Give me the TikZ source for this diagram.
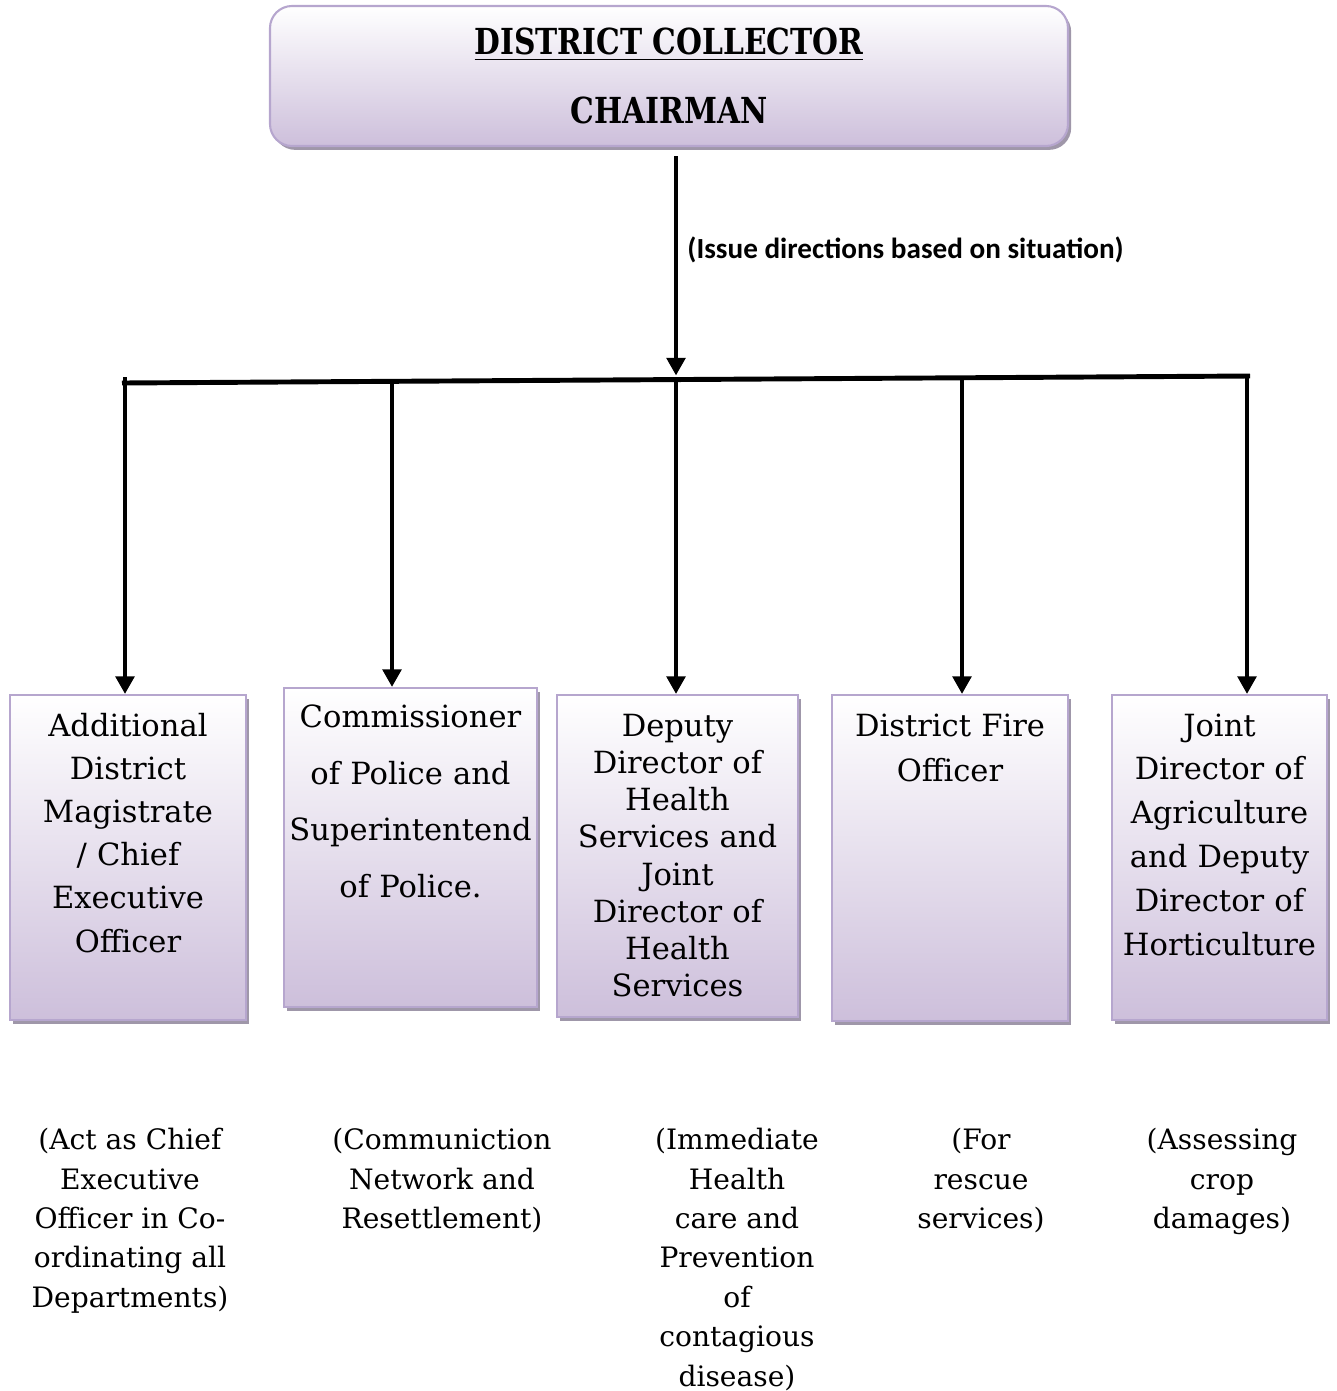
\documentclass[tikz,border=0pt]{standalone}
\usepackage{fontspec}
\setmainfont{DejaVu Serif}
\newfontfamily\labelfont{Carlito}
\newfontfamily\headfont[FakeStretch=0.83]{DejaVu Serif}
\usetikzlibrary{arrows.meta, positioning, shadows}
\definecolor{clav}{HTML}{CDBFDB}
\definecolor{cline}{HTML}{B6A6CE}
\definecolor{cshade}{HTML}{9F97A9}
\tikzset{
  every picture/.style={line width=1.4pt},
  boxshadow/.style={drop shadow={shadow xshift=0.9pt, shadow yshift=-1.1pt, fill=cshade, opacity=1}},
  chairbox/.style={draw=cline, line width=0.6pt, top color=white, bottom color=clav, rounded corners=0.22cm,
    minimum width=7.98cm, minimum height=1.40cm, align=center, boxshadow,
    font=\headfont\bfseries\fontsize{10.2}{12}\selectfont},
  postbox/.style={draw=cline, line width=0.6pt, top color=white, bottom color=clav, anchor=north, align=center,
    inner sep=0pt, text height=0.41cm, boxshadow, font=\fontsize{8.7}{12.3}\selectfont},
  feed/.style={-{Triangle[length=5pt, width=5.2pt]}, line width=1.4pt},
  notetext/.style={anchor=north, align=center, inner sep=0pt, font=\fontsize{8}{11.2}\selectfont},
}

\begin{document}
\begin{tikzpicture}
  \useasboundingbox (0,0) rectangle (13.36,-13.91);
  \node[chairbox] (chair) at (6.69,-0.76) {\underline{DISTRICT COLLECTOR}\\[7.8pt]CHAIRMAN};
  % stem and bar
  \coordinate (hub) at (6.76,-3.755);
  \draw[feed, shorten <=0.09cm] (hub |- chair.south) -- (hub);
  \node[anchor=west, inner sep=0pt, font=\labelfont\bfseries\fontsize{8.3}{10}\selectfont] (issue) at (6.85,-2.50) {(Issue directions based on situation)};
  \coordinate (barl) at (1.22,-3.83);
  \coordinate (barr) at (12.50,-3.76);
  \draw (barl) -- (barr);
  % officers
  \node[postbox, text width=2.36cm, text depth=2.84cm] (b1) at (1.28,-6.94) {Additional\\District\\Magistrate\\/ Chief\\Executive\\Officer};
  \node[postbox, text width=2.53cm, text height=0.39cm, text depth=2.80cm, font=\fontsize{8.7}{16.2}\selectfont] (b2) at (4.105,-6.87) {Commissioner\\of Police and\\Superintentend\\of Police.};
  \node[postbox, text width=2.41cm, text depth=2.81cm, font=\fontsize{8.7}{10.6}\selectfont] (b3) at (6.775,-6.94) {Deputy\\Director of\\Health\\Services and\\Joint\\Director of\\Health\\Services};
  \node[postbox, text width=2.36cm, text depth=2.85cm, font=\fontsize{8.7}{12.8}\selectfont] (b4) at (9.50,-6.94) {District Fire\\Officer};
  \node[postbox, text width=2.15cm, text depth=2.84cm, font=\fontsize{8.7}{12.5}\selectfont] (b5) at (12.195,-6.94) {Joint\\Director of\\Agriculture\\and Deputy\\Director of\\Horticulture};
  % drops from the bar
  \coordinate (t1) at (1.25,-3.77);
  \coordinate (t2) at (3.92,-3.82);
  \coordinate (t3) at (6.76,-3.80);
  \coordinate (t4) at (9.62,-3.78);
  \coordinate (t5) at (12.47,-3.76);
  \foreach \i in {1,...,5} \draw[feed] (t\i) -- (t\i |- b\i.north);
  % duties
  \node[notetext] (n1) at (1.30,-11.26) {(Act as Chief\\Executive\\Officer in Co-\\ordinating all\\Departments)};
  \node[notetext] (n2) at (4.42,-11.26) {(Communiction\\Network and\\Resettlement)};
  \node[notetext] (n3) at (7.37,-11.26) {(Immediate\\Health\\care and\\Prevention\\of\\contagious\\disease)};
  \node[notetext] (n4) at (9.81,-11.26) {(For\\rescue\\services)};
  \node[notetext] (n5) at (12.22,-11.26) {(Assessing\\crop\\damages)};
\end{tikzpicture}
\end{document}
